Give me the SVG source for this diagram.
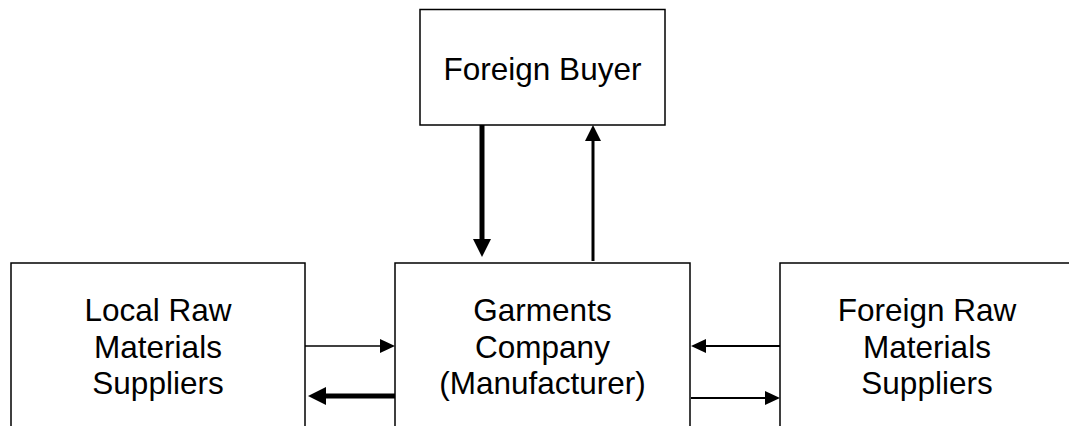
<svg xmlns="http://www.w3.org/2000/svg" width="1069" height="426" viewBox="0 0 1069 426">
  <style>
    .box { fill: #ffffff; stroke: #000000; stroke-width: 1.5; }
    .label { font-family: "Liberation Sans", Arial, sans-serif; font-size: 31.5px; fill: #000000; text-anchor: middle; }
    .conn { stroke: #000000; fill: none; }
  </style>
  <defs>
    <marker id="headThin" viewBox="0 0 15 14" refX="0" refY="7" markerWidth="15" markerHeight="14" markerUnits="userSpaceOnUse" orient="auto">
      <path d="M0,0 L15,7 L0,14 Z" fill="#000000"/>
    </marker>
    <marker id="headMid" viewBox="0 0 16 16" refX="0" refY="8" markerWidth="16" markerHeight="16" markerUnits="userSpaceOnUse" orient="auto">
      <path d="M0,0 L16,8 L0,16 Z" fill="#000000"/>
    </marker>
    <marker id="headThick" viewBox="0 0 18 18" refX="0" refY="9" markerWidth="18" markerHeight="18" markerUnits="userSpaceOnUse" orient="auto">
      <path d="M0,0 L18,9 L0,18 Z" fill="#000000"/>
    </marker>
  </defs>

  <rect width="1069" height="426" fill="#ffffff"/>

  <g id="foreign-buyer">
    <rect class="box" x="420" y="9.5" width="245" height="115.5"/>
    <text class="label" x="542.5" y="80">Foreign Buyer</text>
  </g>

  <g id="local-suppliers">
    <rect class="box" x="11" y="263" width="294" height="180"/>
    <text class="label" x="158" y="321">Local Raw</text>
    <text class="label" x="158" y="357.5">Materials</text>
    <text class="label" x="158" y="394">Suppliers</text>
  </g>

  <g id="garments-company">
    <rect class="box" x="395" y="263" width="295" height="180"/>
    <text class="label" x="542.5" y="321">Garments</text>
    <text class="label" x="542.5" y="357.5">Company</text>
    <text class="label" x="542.5" y="394">(Manufacturer)</text>
  </g>

  <g id="foreign-suppliers">
    <rect class="box" x="780" y="263" width="294" height="180"/>
    <text class="label" x="927" y="321">Foreign Raw</text>
    <text class="label" x="927" y="357.5">Materials</text>
    <text class="label" x="927" y="394">Suppliers</text>
  </g>

  <g id="connectors">
    <!-- local suppliers to manufacturer -->
    <path class="conn" d="M305,346 H380" stroke-width="1.5" marker-end="url(#headThin)"/>
    <!-- manufacturer to local suppliers -->
    <path class="conn" d="M395,396 H326" stroke-width="5" marker-end="url(#headThick)"/>
    <!-- foreign suppliers to manufacturer -->
    <path class="conn" d="M780,346 H706" stroke-width="2" marker-end="url(#headThin)"/>
    <!-- manufacturer to foreign suppliers -->
    <path class="conn" d="M691,398 H765" stroke-width="2" marker-end="url(#headThin)"/>
    <!-- buyer to manufacturer -->
    <path class="conn" d="M482,125 V239" stroke-width="5" marker-end="url(#headThick)"/>
    <!-- manufacturer to buyer -->
    <path class="conn" d="M593,261 V141" stroke-width="3" marker-end="url(#headMid)"/>
  </g>
</svg>
